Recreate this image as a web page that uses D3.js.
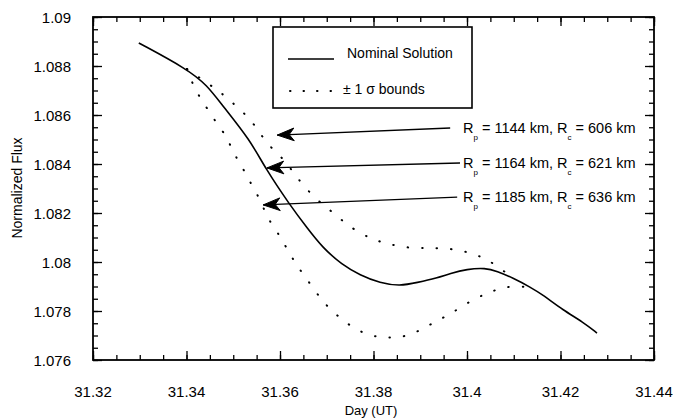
<!DOCTYPE html>
<html>
<head>
<meta charset="utf-8">
<script src="https://cdn.jsdelivr.net/npm/d3@7"></script>
<style>
  body { margin: 0; background: #fff; }
  text { font-family: "Liberation Sans", Arial, sans-serif; fill: #000; }
</style>
</head>
<body>
<div id="chart"></div>
<script>
// nominal solution curve (day, flux)
const nominalDay = [31.3298, 31.3401, 31.3444, 31.3476, 31.3536, 31.3568, 31.3621, 31.3658, 31.3690, 31.3733,
  31.3771, 31.3814, 31.3857, 31.3893, 31.3936, 31.3964, 31.4000, 31.4039, 31.4064, 31.4098,
  31.4135, 31.4163, 31.4205, 31.4248, 31.4278];
const nominalFlux = [1.08894, 1.08788, 1.08722, 1.08641, 1.08498, 1.08384, 1.08233, 1.08139, 1.08061, 1.07988,
  1.07947, 1.07914, 1.07902, 1.07916, 1.07935, 1.07953, 1.07971, 1.07976, 1.07963, 1.07935,
  1.07898, 1.07865, 1.07804, 1.07755, 1.07710];

// +1 sigma bound
const upperDay = [31.3401, 31.3444, 31.3472, 31.3499, 31.3532, 31.3553, 31.3574, 31.3606, 31.3628, 31.3649,
  31.3679, 31.3707, 31.3739, 31.3767, 31.3797, 31.3822, 31.3852, 31.3882, 31.3912, 31.3938,
  31.3970, 31.4000, 31.4028, 31.4056, 31.4098];
const upperFlux = [1.08788, 1.08731, 1.08694, 1.08649, 1.08592, 1.08539, 1.08478, 1.08424, 1.08367, 1.08314,
  1.08253, 1.08212, 1.08159, 1.08122, 1.08094, 1.08078, 1.08065, 1.08057, 1.08057, 1.08057,
  1.08053, 1.08041, 1.08024, 1.07996, 1.07935];

// -1 sigma bound
const lowerDay = [31.3401, 31.3412, 31.3429, 31.3448, 31.3467, 31.3487, 31.3499, 31.3517, 31.3532, 31.3549,
  31.3564, 31.3576, 31.3596, 31.3613, 31.3630, 31.3649, 31.3671, 31.3692, 31.3718, 31.3750,
  31.3778, 31.3807, 31.3835, 31.3863, 31.3893, 31.3923, 31.3953, 31.3981, 31.4011, 31.4039,
  31.4066, 31.4096, 31.4128];
const lowerFlux = [1.08788, 1.08731, 1.08669, 1.08616, 1.08559, 1.08510, 1.08449, 1.08396, 1.08339, 1.08286,
  1.08224, 1.08171, 1.08118, 1.08061, 1.08004, 1.07951, 1.07894, 1.07837, 1.07788, 1.07739,
  1.07710, 1.07694, 1.07690, 1.07694, 1.07714, 1.07747, 1.07776, 1.07808, 1.07845, 1.07869,
  1.07890, 1.07902, 1.07898];

const xTicks = [31.32, 31.34, 31.36, 31.38, 31.40, 31.42, 31.44];
const xTickLabels = ['31.32', '31.34', '31.36', '31.38', '31.4', '31.42', '31.44'];
const yTicks = [1.076, 1.078, 1.08, 1.082, 1.084, 1.086, 1.088, 1.09];
const yTickLabels = ['1.076', '1.078', '1.08', '1.082', '1.084', '1.086', '1.088', '1.09'];

// annotations: Rp, Rc values, arrow tip and tail in data units
const annRp = [1144, 1164, 1185];
const annRc = [606, 621, 636];
const annTipDay = [31.3594, 31.3572, 31.3564];
const annTipFlux = [1.08518, 1.08384, 1.08233];
const annTailDay = [31.3964, 31.3985, 31.3979];
const annTailFlux = [1.08547, 1.08404, 1.08265];

const width = 673, height = 418;
const margin = { top: 17, right: 19, bottom: 58, left: 93 };

const svg = d3.select('#chart')
  .append('svg')
  .attr('width', width)
  .attr('height', height);

const x = d3.scaleLinear().domain([31.32, 31.44]).range([margin.left, width - margin.right]);
const y = d3.scaleLinear().domain([1.076, 1.09]).range([height - margin.bottom, margin.top]);

// minor ticks every 0.005 day and 0.0005 flux
const xMinor = d3.range(0, 25).map(i => 31.32 + i * 0.005);
const yMinor = d3.range(0, 29).map(i => 1.076 + i * 0.0005);

// Axes (ticks pointing inward)
const axisStyle = g => {
  g.select('.domain').remove();
  g.selectAll('line').attr('stroke', '#000').attr('stroke-width', 1.3);
  g.selectAll('text').remove();
};

svg.append('g')
  .attr('transform', `translate(0, ${y(1.076)})`)
  .call(d3.axisTop(x).tickValues(xMinor).tickSize(5).tickFormat(''))
  .call(axisStyle);
svg.append('g')
  .attr('transform', `translate(0, ${y(1.076)})`)
  .call(d3.axisTop(x).tickValues(xTicks).tickSize(9).tickFormat(''))
  .call(axisStyle);
svg.append('g')
  .attr('transform', `translate(0, ${y(1.09)})`)
  .call(d3.axisBottom(x).tickValues(xMinor).tickSize(5).tickFormat(''))
  .call(axisStyle);
svg.append('g')
  .attr('transform', `translate(0, ${y(1.09)})`)
  .call(d3.axisBottom(x).tickValues(xTicks).tickSize(9).tickFormat(''))
  .call(axisStyle);

svg.append('g')
  .attr('transform', `translate(${x(31.32)}, 0)`)
  .call(d3.axisRight(y).tickValues(yMinor).tickSize(5).tickFormat(''))
  .call(axisStyle);
svg.append('g')
  .attr('transform', `translate(${x(31.32)}, 0)`)
  .call(d3.axisRight(y).tickValues(yTicks).tickSize(9).tickFormat(''))
  .call(axisStyle);
svg.append('g')
  .attr('transform', `translate(${x(31.44)}, 0)`)
  .call(d3.axisLeft(y).tickValues(yMinor).tickSize(5).tickFormat(''))
  .call(axisStyle);
svg.append('g')
  .attr('transform', `translate(${x(31.44)}, 0)`)
  .call(d3.axisLeft(y).tickValues(yTicks).tickSize(9).tickFormat(''))
  .call(axisStyle);

// frame
svg.append('rect')
  .attr('x', x(31.32))
  .attr('y', y(1.09))
  .attr('width', x(31.44) - x(31.32))
  .attr('height', y(1.076) - y(1.09))
  .attr('fill', 'none')
  .attr('stroke', '#000')
  .attr('stroke-width', 1.8);

// tick labels
svg.selectAll('.xlab')
  .data(xTicks)
  .enter().append('text')
  .attr('x', d => x(d))
  .attr('y', 397)
  .attr('text-anchor', 'middle')
  .attr('font-size', '15px')
  .text((d, i) => xTickLabels[i]);

svg.selectAll('.ylab')
  .data(yTicks)
  .enter().append('text')
  .attr('x', 71)
  .attr('y', d => y(d) + 5.5)
  .attr('text-anchor', 'end')
  .attr('font-size', '15px')
  .text((d, i) => yTickLabels[i]);

// axis titles
svg.append('text')
  .attr('x', 371)
  .attr('y', 415)
  .attr('text-anchor', 'middle')
  .attr('font-size', '13px')
  .text('Day (UT)');

svg.append('text')
  .attr('transform', 'rotate(-90)')
  .attr('x', -188)
  .attr('y', 22)
  .attr('text-anchor', 'middle')
  .attr('font-size', '14px')
  .text('Normalized Flux');

// curves
const line = d3.line()
  .x(d => x(d[0]))
  .y(d => y(d[1]))
  .curve(d3.curveBasis);

svg.append('path')
  .datum(d3.zip(upperDay, upperFlux))
  .attr('d', line)
  .attr('fill', 'none')
  .attr('stroke', '#000')
  .attr('stroke-width', 2)
  .attr('stroke-linecap', 'round')
  .attr('stroke-dasharray', '0.5,14');

svg.append('path')
  .datum(d3.zip(lowerDay, lowerFlux))
  .attr('d', line)
  .attr('fill', 'none')
  .attr('stroke', '#000')
  .attr('stroke-width', 2)
  .attr('stroke-linecap', 'round')
  .attr('stroke-dasharray', '0.5,14');

svg.append('path')
  .datum(d3.zip(nominalDay, nominalFlux))
  .attr('d', line)
  .attr('fill', 'none')
  .attr('stroke', '#000')
  .attr('stroke-width', 1.6);

// legend
const legend = svg.append('g');
legend.append('rect')
  .attr('x', 273).attr('y', 27)
  .attr('width', 199).attr('height', 81)
  .attr('fill', '#fff')
  .attr('stroke', '#000')
  .attr('stroke-width', 1.6);
legend.append('line')
  .attr('x1', 288).attr('x2', 334).attr('y1', 59).attr('y2', 59)
  .attr('stroke', '#000').attr('stroke-width', 1.6);
legend.append('line')
  .attr('x1', 290).attr('x2', 336).attr('y1', 91).attr('y2', 91)
  .attr('stroke', '#000').attr('stroke-width', 2)
  .attr('stroke-linecap', 'round')
  .attr('stroke-dasharray', '0.5,13');
legend.append('text')
  .attr('x', 347).attr('y', 58)
  .attr('font-size', '14px')
  .text('Nominal Solution');
legend.append('text')
  .attr('x', 343).attr('y', 94)
  .attr('font-size', '14px')
  .text('± 1 σ bounds');

// annotation arrows
annRp.forEach((rp, i) => {
  const tx = x(annTipDay[i]), ty = y(annTipFlux[i]);
  const ex = x(annTailDay[i]), ey = y(annTailFlux[i]);
  const ang = Math.atan2(ey - ty, ex - tx);
  const len = 18, spread = 0.36;
  svg.append('line')
    .attr('x1', tx).attr('y1', ty).attr('x2', ex).attr('y2', ey)
    .attr('stroke', '#000').attr('stroke-width', 1.4);
  svg.append('path')
    .attr('d', `M${tx + len * Math.cos(ang - spread)},${ty + len * Math.sin(ang - spread)}`
      + `L${tx},${ty}L${tx + len * Math.cos(ang + spread)},${ty + len * Math.sin(ang + spread)}`
      + `L${tx + 12 * Math.cos(ang)},${ty + 12 * Math.sin(ang)}Z`)
    .attr('fill', '#000').attr('stroke', '#000').attr('stroke-width', 1);

  const t = svg.append('text')
    .attr('x', 463)
    .attr('y', ey + 5)
    .attr('font-size', '14.5px');
  t.append('tspan').text('R');
  t.append('tspan').attr('dy', 7).attr('font-size', '8px').text('p');
  t.append('tspan').attr('dy', -7).text(` = ${rp} km, R`);
  t.append('tspan').attr('dy', 7).attr('font-size', '8px').text('c');
  t.append('tspan').attr('dy', -7).text(` = ${annRc[i]} km`);
});
</script>
</body>
</html>
